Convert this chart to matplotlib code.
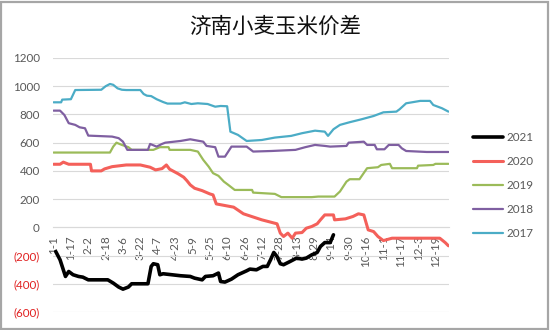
import matplotlib
matplotlib.use("Agg")
import matplotlib.pyplot as plt
from matplotlib.patches import Rectangle
from matplotlib.ticker import FixedLocator, FuncFormatter

plt.rcParams["font.family"] = ["Lato", "DejaVu Sans"]

# Day-of-year index (0 = Jan 1) and wheat-corn spread values, Jinan
days_2021 = [2, 6, 11, 14, 18, 23, 27, 32, 50, 55, 60, 64, 69, 72, 87, 90, 92, 96, 98, 101,
             117, 126, 130, 137, 140, 147, 152, 154, 158, 164, 170, 178, 181, 187, 193, 197,
             200, 203, 206, 209, 212, 218, 224, 229, 233, 238, 243, 246, 250, 255, 258]
vals_2021 = [-171, -230, -348, -313, -336, -348, -353, -372, -372, -395, -423, -438, -423, -400,
             -400, -277, -258, -265, -336, -329, -343, -348, -360, -372, -348, -343, -324, -384,
             -388, -367, -336, -308, -296, -301, -277, -277, -230, -178, -207, -258, -265, -242,
             -218, -225, -218, -195, -178, -136, -108, -108, -53]

days_2020 = [0, 6, 9, 14, 34, 35, 44, 47, 54, 67, 80, 89, 94, 100, 104, 107, 115, 120, 123, 126,
             130, 137, 144, 147, 150, 166, 175, 192, 206, 209, 212, 216, 220, 223, 229, 233, 238,
             243, 246, 250, 258, 259, 269, 276, 281, 286, 290, 295, 299, 304, 312, 356, 361, 364]
vals_2020 = [447, 447, 462, 447, 447, 400, 400, 414, 430, 442, 442, 426, 407, 416, 442, 412, 379,
             355, 330, 301, 277, 260, 237, 230, 166, 143, 96, 53, 25, -41, -65, -41, -77, -41, -37,
             -6, 6, 25, 53, 88, 88, 53, 60, 77, 96, 88, -18, -30, -65, -94, -77, -77, -108, -131]

days_2019 = [0, 52, 55, 58, 63, 69, 72, 86, 92, 98, 106, 107, 126, 133, 138, 143, 147, 152, 157,
             161, 167, 183, 184, 204, 210, 238, 244, 259, 264, 270, 273, 282, 289, 299, 302, 310,
             312, 335, 336, 350, 352, 364]
vals_2019 = [530, 530, 572, 600, 584, 568, 549, 549, 549, 568, 568, 549, 549, 537, 478, 430, 384,
             365, 324, 301, 265, 265, 246, 237, 214, 214, 218, 218, 254, 324, 341, 341, 419, 426,
             442, 450, 419, 419, 437, 442, 450, 450]

days_2018 = [0, 6, 10, 14, 20, 24, 29, 32, 54, 60, 64, 68, 87, 89, 95, 100, 103, 117, 126, 138,
             141, 149, 152, 158, 164, 178, 184, 201, 223, 232, 241, 250, 255, 270, 272, 286, 289,
             296, 298, 305, 309, 318, 321, 325, 344, 364]
vals_2018 = [827, 827, 796, 738, 726, 709, 702, 650, 643, 632, 607, 549, 549, 591, 572, 591, 600,
             612, 624, 607, 577, 568, 501, 501, 572, 572, 537, 541, 549, 568, 584, 577, 572, 577,
             600, 607, 584, 584, 553, 553, 584, 584, 560, 541, 534, 534]

days_2017 = [0, 7, 8, 16, 20, 44, 48, 52, 55, 59, 63, 67, 80, 83, 86, 90, 95, 101, 105, 117, 121,
             127, 133, 142, 149, 154, 160, 163, 170, 178, 192, 204, 219, 229, 241, 250, 253, 258,
             264, 273, 284, 295, 304, 316, 319, 325, 338, 347, 350, 358, 364]
vals_2017 = [886, 886, 905, 908, 973, 975, 1000, 1016, 1010, 985, 975, 973, 973, 945, 933, 930,
             908, 888, 877, 877, 886, 874, 879, 874, 855, 860, 858, 678, 655, 612, 619, 636, 648,
             667, 685, 678, 648, 695, 726, 745, 766, 789, 815, 820, 837, 879, 896, 896, 867, 844,
             820]

tick_days = list(range(0, 365, 16))
tick_labels = ["1-1", "1-17", "2-2", "2-18", "3-6", "3-22", "4-7", "4-23", "5-9", "5-25",
               "6-10", "6-26", "7-12", "7-28", "8-13", "8-29", "9-14", "9-30", "10-16",
               "11-1", "11-17", "12-3", "12-19"]
y_ticks = [-600, -400, -200, 0, 200, 400, 600, 800, 1000, 1200]

W, H = 550, 330
fig = plt.figure(figsize=(W / 100, H / 100), dpi=100)
fig.patch.set_facecolor("white")
ax = fig.add_axes([53 / W, 1 - 312 / H, (449 - 53) / W, (312 - 58) / H])

series = [
    ("2021", days_2021, vals_2021, "#000000", 2.6),
    ("2020", days_2020, vals_2020, "#F4605A", 2.2),
    ("2019", days_2019, vals_2019, "#9BBB59", 1.6),
    ("2018", days_2018, vals_2018, "#7F5FA1", 1.6),
    ("2017", days_2017, vals_2017, "#4BACC6", 1.6),
]
handles = []
for name, d, v, c, lw in series:
    ln, = ax.plot(d, v, color=c, lw=lw, label=name, solid_joinstyle="round",
                  solid_capstyle="round", zorder=3)
    handles.append(ln)

# Spine placement first: moving a spine resets the tick objects
for s in ("left", "right", "top"):
    ax.spines[s].set_visible(False)
ax.spines["bottom"].set_position(("data", 0))
ax.spines["bottom"].set_color("#D9D9D9")
ax.spines["bottom"].set_linewidth(0.8)

ax.set_xlim(-0.5, 364.5)
ax.set_ylim(-600, 1200)
ax.set_axisbelow(True)
ax.yaxis.set_major_locator(FixedLocator(y_ticks))
ax.grid(axis="y", color="#D9D9D9", lw=0.8)
ax.grid(axis="x", visible=False)

def fmt(v, pos):
    v = int(round(v))
    return f"({abs(v)})" if v < 0 else f"{v}"

ax.yaxis.set_major_formatter(FuncFormatter(fmt))
ax.tick_params(axis="y", length=0, pad=9.5, labelsize=8.4, labelcolor="#595959")
for lab, val in zip(ax.get_yticklabels(), y_ticks):
    if val < 0:
        lab.set_color("#E02020")

ax.set_xticks(tick_days)
ax.set_xticklabels(tick_labels)
ax.tick_params(axis="x", length=0, pad=6, labelsize=8.4, labelcolor="#595959",
               labelrotation=90)

fig.text(275 / W, 1 - 27 / H, "济南小麦玉米价差", ha="center", va="center",
         fontsize=15.5, color="#111111", family=["Noto Sans CJK SC", "DejaVu Sans"])

leg = ax.legend(handles=handles, loc="center left",
                bbox_to_anchor=(473 / W, 1 - 185.5 / H), bbox_transform=fig.transFigure,
                frameon=False, fontsize=8.4, handlelength=2.55, handletextpad=0.3,
                labelspacing=1.12, borderpad=0, borderaxespad=0)
for t in leg.get_texts():
    t.set_color("#595959")

fig.patches.append(Rectangle((1 / W, 1 / H), 547 / W, 327 / H, transform=fig.transFigure,
                             fill=False, edgecolor="#A6A6A6", lw=1.6))

fig.savefig("out.png", dpi=100)
